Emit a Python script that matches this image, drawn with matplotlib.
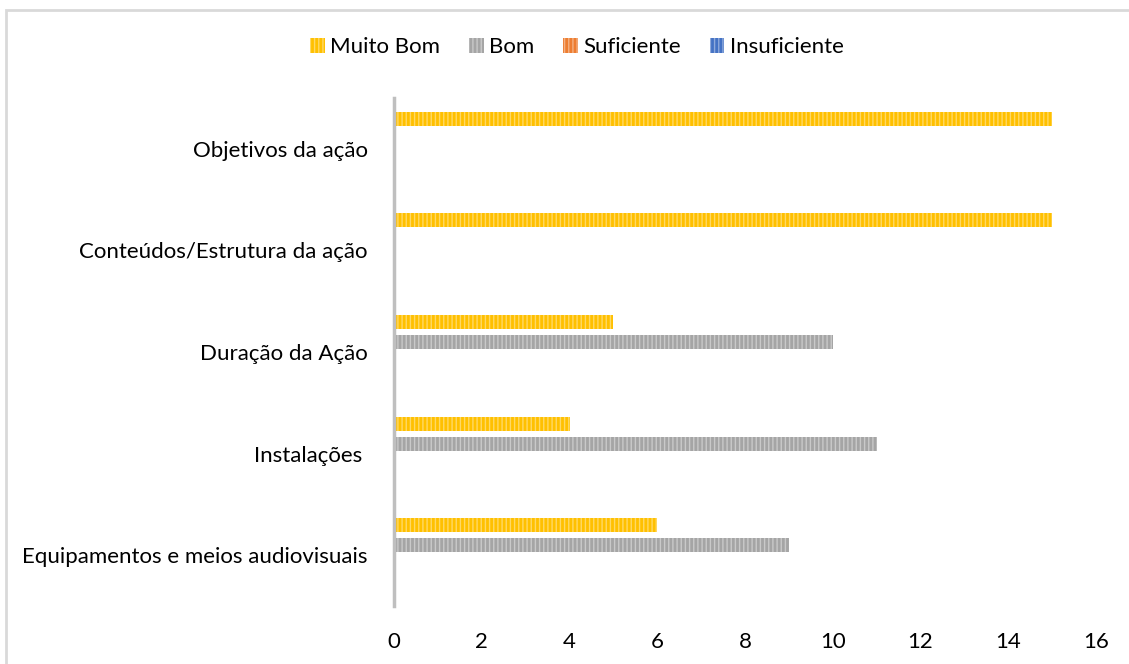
import numpy as np
import matplotlib.pyplot as plt
from matplotlib.patches import Rectangle

# categories from bottom to top
categories = ['Equipamentos e meios audiovisuais', 'Instalações ', 'Duração da Ação',
              'Conteúdos/Estrutura da ação', 'Objetivos da ação']
series = ['Muito Bom', 'Bom', 'Suficiente', 'Insuficiente']
muito_bom = [6, 4, 5, 15, 15]
bom = [9, 11, 10, 0, 0]
suficiente = [0, 0, 0, 0, 0]
insuficiente = [0, 0, 0, 0, 0]
x_ticks = [0, 2, 4, 6, 8, 10, 12, 14, 16]

colors = ['#FFC000', '#A5A5A5', '#ED7D31', '#4472C4']
hatch_colors = ['#FFD966', '#C9C9C9', '#F4B183', '#8FAADC']
offsets = [0.295, 0.098, -0.098, -0.295]

plt.rcParams['font.family'] = ['Lato', 'DejaVu Sans']
plt.rcParams['hatch.linewidth'] = 1.0

fig = plt.figure(figsize=(11.29, 6.64), dpi=100)
ax = fig.add_axes([394 / 1129, 1 - 606 / 664, (1096 - 394) / 1129, (606 - 98) / 664])

y = np.arange(len(categories))
for name, vals, c, hc, off in zip(series, [muito_bom, bom, suficiente, insuficiente],
                                  colors, hatch_colors, offsets):
    ax.barh(y + off, vals, height=0.138, color=c, edgecolor=hc, hatch='||||',
            linewidth=0, label=name)

ax.set_xlim(0, 16)
ax.set_ylim(-0.5, len(categories) - 0.5)
ax.set_xticks(x_ticks)
ax.set_yticks(y)
ax.set_yticklabels(categories)
ax.tick_params(axis='both', length=0, labelsize=16, colors='#000000')
ax.tick_params(axis='x', pad=19)
ax.tick_params(axis='y', pad=19)

for s in ['top', 'right', 'bottom']:
    ax.spines[s].set_visible(False)
ax.spines['left'].set_color('#BFBFBF')
ax.spines['left'].set_linewidth(2.5)

ax.legend(loc='center', bbox_to_anchor=(577 / 1129, 1 - 47 / 664),
          bbox_transform=fig.transFigure, ncol=4, frameon=False, fontsize=16,
          handlelength=0.65, handleheight=0.65, handletextpad=0.25, columnspacing=1.3)

# outer chart border
fig.patches.append(Rectangle((5.5 / 1129, -0.1), 1.2, 1 - 9.5 / 664 + 0.1,
                             transform=fig.transFigure, fill=False,
                             edgecolor='#D9D9D9', linewidth=2))

fig.savefig('out.png', dpi=100)
